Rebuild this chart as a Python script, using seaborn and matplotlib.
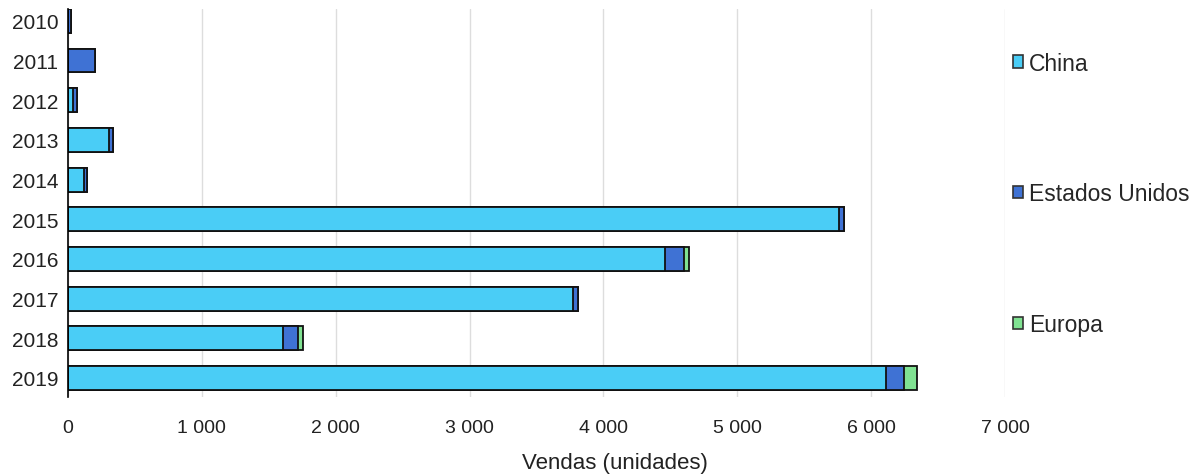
import numpy as np
import pandas as pd
import matplotlib
matplotlib.use("Agg")
import matplotlib.pyplot as plt
from matplotlib.patches import Patch
from matplotlib.ticker import FuncFormatter
import seaborn as sns

# dados
anos = ['2010', '2011', '2012', '2013', '2014', '2015', '2016', '2017', '2018', '2019']
china = [0, 0, 40, 305, 120, 5760, 4458, 3770, 1608, 6111]
estados_unidos = [20, 200, 25, 30, 20, 35, 142, 37, 112, 134]
europa = [0, 0, 0, 0, 0, 0, 37, 0, 38, 97]

cores = {'China': '#4ACDF6', 'Estados Unidos': '#3F72D4', 'Europa': '#80E292'}

df = pd.DataFrame({'ano': anos, 'China': china,
                   'Estados Unidos': estados_unidos, 'Europa': europa})
df['cum_us'] = df['China'] + df['Estados Unidos']
df['cum_eu'] = df['cum_us'] + df['Europa']

sns.set_style('white')
plt.rcParams['font.family'] = ['Liberation Sans', 'DejaVu Sans']

fig = plt.figure(figsize=(12.03, 4.77), dpi=100)
ax = fig.add_axes([0.0565, 0.1656, 0.7789, 0.8134])

# barras empilhadas: totais acumulados desenhados por cima uns dos outros
for col, nome in [('cum_eu', 'Europa'), ('cum_us', 'Estados Unidos'), ('China', 'China')]:
    sns.barplot(data=df, x=col, y='ano', order=anos, orient='h', color=cores[nome],
                edgecolor='#111111', linewidth=1.3, width=0.6, saturation=1, ax=ax)

ax.set_xlim(0, 7000)
ax.set_ylim(9.48, -0.3)
ax.set_xticks(np.arange(0, 7001, 1000))
ax.xaxis.set_major_formatter(FuncFormatter(lambda v, p: f'{int(v):,}'.replace(',', ' ')))
ax.grid(axis='x', color='#dddddd', linewidth=1)
ax.set_axisbelow(True)
for s in ['top', 'right', 'bottom']:
    ax.spines[s].set_visible(False)
ax.spines['left'].set_color('black')
ax.spines['left'].set_linewidth(1.2)
ax.tick_params(axis='x', length=0, labelsize=14, colors='#222222', pad=16)
ax.tick_params(axis='y', length=0, labelsize=15, colors='#222222', pad=7)
ax.set_ylabel('')
ax.set_xlabel('Vendas (unidades)', fontsize=16, color='#222222')
ax.xaxis.set_label_coords(0.584, -0.142)

handles = [Patch(facecolor=cores[n], edgecolor='#333333', linewidth=1.2, label=n)
           for n in ['China', 'Estados Unidos', 'Europa']]
fig.legend(handles=handles, loc='upper left', bbox_to_anchor=(0.825, 0.933),
           frameon=False, fontsize=16.5, handlelength=0.45, handleheight=0.45,
           handletextpad=0.25, labelspacing=4.7)

fig.savefig('out.png', dpi=100)
